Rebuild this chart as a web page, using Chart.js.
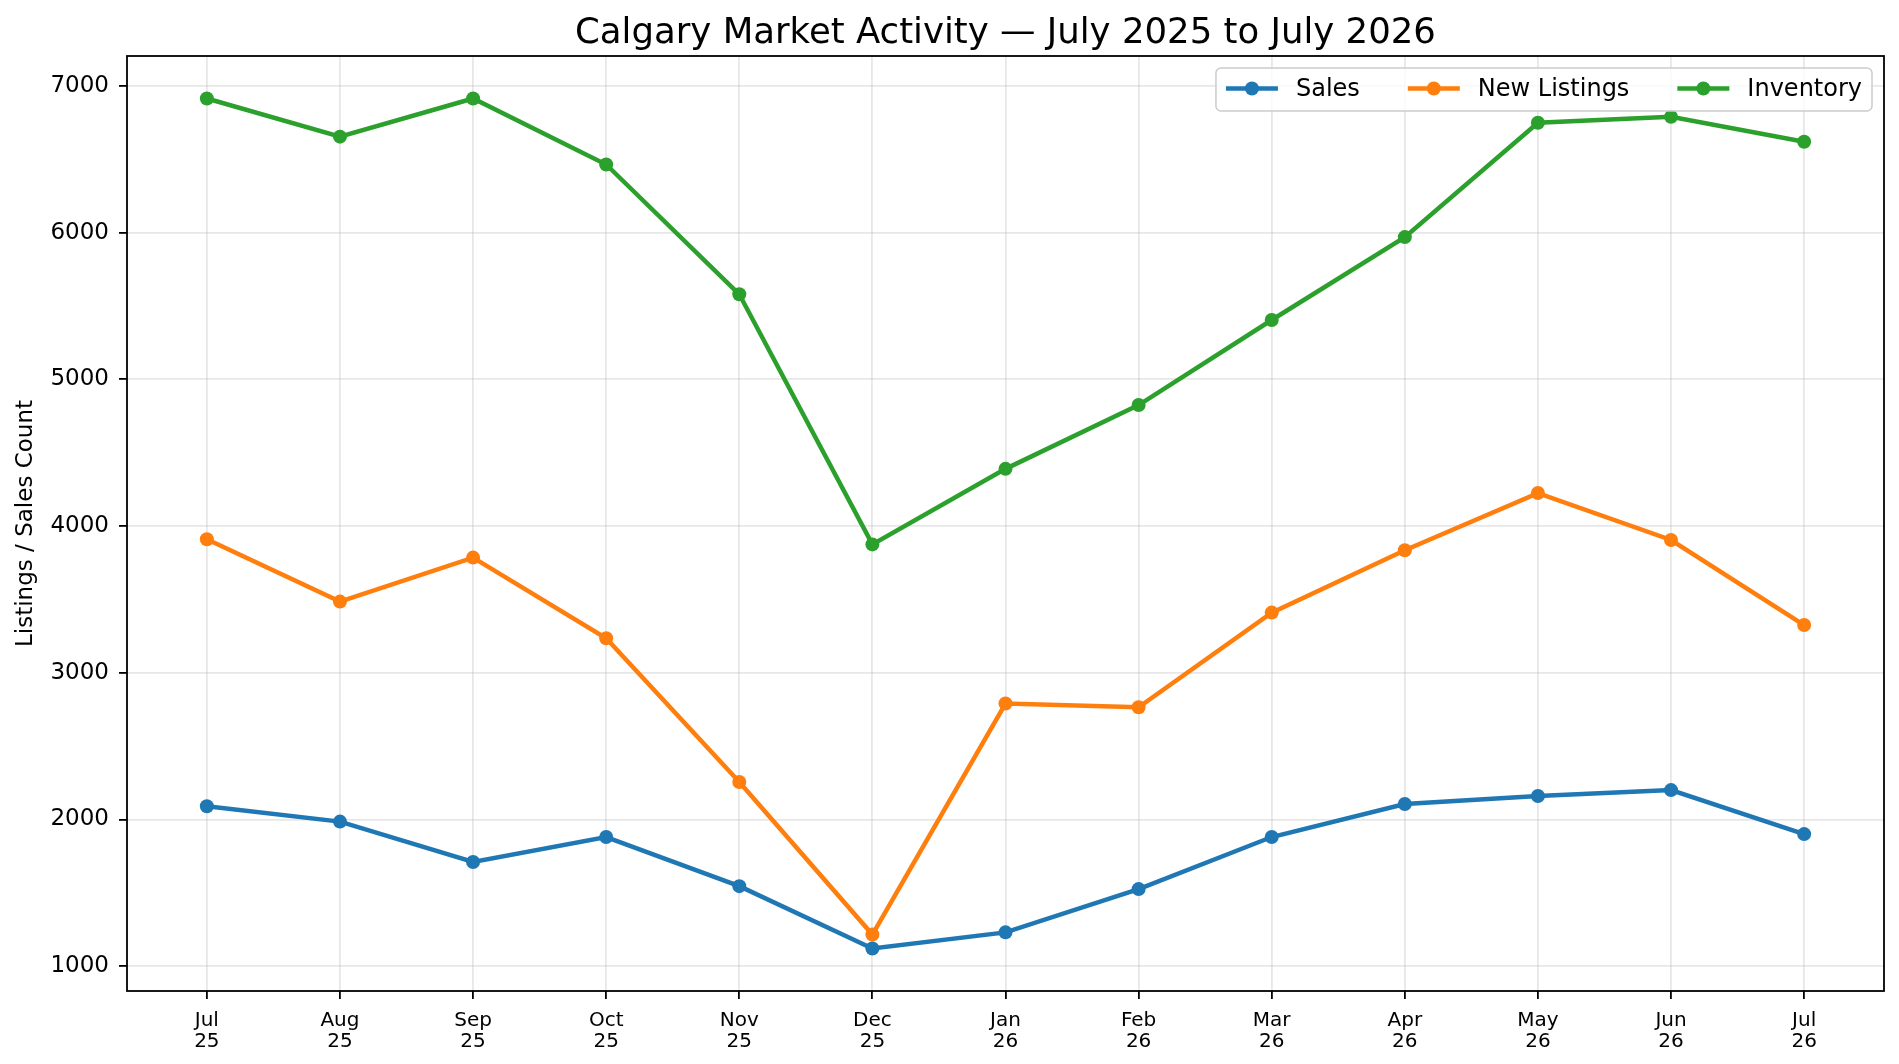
<!DOCTYPE html>
<html lang="en">
<head>
<meta charset="utf-8">
<title>Calgary Market Activity</title>
<script src="https://cdn.jsdelivr.net/npm/chart.js@4.4.1/dist/chart.umd.min.js"></script>
<style>
  html, body { margin: 0; padding: 0; background: #fff; }
  canvas { display: block; }
</style>
</head>
<body>
<canvas id="marketChart" width="1899" height="1064"></canvas>
<script>
const months = ['Jul 25', 'Aug 25', 'Sep 25', 'Oct 25', 'Nov 25', 'Dec 25', 'Jan 26', 'Feb 26', 'Mar 26', 'Apr 26', 'May 26', 'Jun 26', 'Jul 26'];
const sales = [2090, 1985, 1710, 1880, 1545, 1120, 1230, 1525, 1880, 2105, 2160, 2200, 1900];
const newListings = [3910, 3485, 3785, 3235, 2255, 1215, 2790, 2765, 3410, 3835, 4225, 3905, 3325];
const inventory = [6915, 6655, 6915, 6465, 5580, 3875, 4390, 4825, 5405, 5970, 6750, 6790, 6620];
const yTicks = [1000, 2000, 3000, 4000, 5000, 6000, 7000];
const seriesColors = ['#1f77b4', '#ff7f0e', '#2ca02c'];

const FONT = 'DejaVu Sans';
Chart.defaults.font.family = FONT;
Chart.defaults.color = '#000';

// 5% margins around the data, like matplotlib's autoscale
const allValues = sales.concat(newListings, inventory);
const dataMin = Math.min(...allValues);
const dataMax = Math.max(...allValues);
const yPad = (dataMax - dataMin) * 0.05;
const xPad = (months.length - 1) * 0.05;

const gridColor = 'rgba(176,176,176,0.3)';

function series(label, values, color) {
    return {
        label,
        data: values.map((v, i) => ({ x: i, y: v })),
        borderColor: color,
        backgroundColor: color,
        borderWidth: 4.5,
        pointRadius: 7,
        pointHoverRadius: 7,
        pointBorderWidth: 0,
        pointBackgroundColor: color,
        tension: 0,
        clip: false
    };
}

// axes frame on all four sides
const framePlugin = {
    id: 'frame',
    afterDraw(chart) {
        const { ctx, chartArea: a } = chart;
        ctx.save();
        ctx.strokeStyle = '#000';
        ctx.lineWidth = 1.8;
        ctx.strokeRect(a.left, a.top, a.right - a.left, a.bottom - a.top);
        ctx.restore();
    }
};

// boxed legend in the upper right corner, line + marker handles
const boxLegendPlugin = {
    id: 'boxLegend',
    afterDraw(chart) {
        const { ctx, chartArea: a } = chart;
        const fontSize = 24, handle = 52, textGap = 18, colGap = 48, pad = 10, boxH = 43;
        ctx.save();
        ctx.font = `${fontSize}px "${FONT}"`;
        const items = chart.data.datasets.map(ds => ({
            label: ds.label,
            color: ds.borderColor,
            w: ctx.measureText(ds.label).width
        }));
        const contentW = items.reduce((s, it) => s + handle + textGap + it.w, 0) + colGap * (items.length - 1);
        const boxW = contentW + pad * 2;
        const right = a.right - 12;
        const top = a.top + 12;
        const left = right - boxW;

        ctx.beginPath();
        if (ctx.roundRect) ctx.roundRect(left, top, boxW, boxH, 5);
        else ctx.rect(left, top, boxW, boxH);
        ctx.fillStyle = 'rgba(255,255,255,0.8)';
        ctx.fill();
        ctx.strokeStyle = '#cccccc';
        ctx.lineWidth = 1.5;
        ctx.stroke();

        let x = left + pad;
        const cy = top + boxH / 2;
        ctx.textBaseline = 'middle';
        items.forEach(it => {
            ctx.strokeStyle = it.color;
            ctx.lineWidth = 4.5;
            ctx.beginPath();
            ctx.moveTo(x, cy - 1);
            ctx.lineTo(x + handle, cy - 1);
            ctx.stroke();
            ctx.fillStyle = it.color;
            ctx.beginPath();
            ctx.arc(x + handle / 2, cy - 1, 7, 0, Math.PI * 2);
            ctx.fill();
            ctx.fillStyle = '#000';
            ctx.fillText(it.label, x + handle + textGap, cy);
            x += handle + textGap + it.w + colGap;
        });
        ctx.restore();
    }
};

document.addEventListener('DOMContentLoaded', () => {
    const ctx = document.getElementById('marketChart').getContext('2d');
    new Chart(ctx, {
        type: 'line',
        data: {
            datasets: [
                series('Sales', sales, seriesColors[0]),
                series('New Listings', newListings, seriesColors[1]),
                series('Inventory', inventory, seriesColors[2])
            ]
        },
        options: {
            responsive: false,
            devicePixelRatio: 1,
            animation: false,
            events: [],
            layout: { padding: { left: 0, top: 0, right: 15, bottom: 0 } },
            plugins: {
                legend: { display: false },
                tooltip: { enabled: false },
                title: {
                    display: true,
                    fullSize: false,
                    text: 'Calgary Market Activity \u2014 July 2025 to July 2026',
                    color: '#000',
                    font: { size: 35.5, weight: 'normal', lineHeight: 1.2 },
                    padding: { top: 12, bottom: 1.4 }
                }
            },
            scales: {
                x: {
                    type: 'linear',
                    min: -xPad,
                    max: months.length - 1 + xPad,
                    afterBuildTicks: scale => { scale.ticks = months.map((m, i) => ({ value: i })); },
                    afterFit: scale => { scale.height = 73; },
                    ticks: {
                        autoSkip: false,
                        maxRotation: 0,
                        padding: 11,
                        color: '#000',
                        font: { size: 20, lineHeight: 1.05 },
                        callback: v => months[v] ? months[v].split(' ') : ''
                    },
                    grid: { color: gridColor, lineWidth: 1.8, tickColor: '#000', tickLength: 8, tickWidth: 1.8 },
                    border: { display: false }
                },
                y: {
                    min: dataMin - yPad,
                    max: dataMax + yPad,
                    afterBuildTicks: scale => { scale.ticks = yTicks.map(v => ({ value: v })); },
                    afterFit: scale => { scale.width = 127; },
                    ticks: { padding: 10, color: '#000', font: { size: 23 }, callback: v => String(v) },
                    grid: { color: gridColor, lineWidth: 1.8, tickColor: '#000', tickLength: 8, tickWidth: 1.8 },
                    border: { display: false },
                    title: {
                        display: true,
                        text: 'Listings / Sales Count',
                        color: '#000',
                        font: { size: 23, lineHeight: 1.2 },
                        padding: { top: 12, bottom: 0 }
                    }
                }
            }
        },
        plugins: [framePlugin, boxLegendPlugin]
    });
});
</script>
</body>
</html>
